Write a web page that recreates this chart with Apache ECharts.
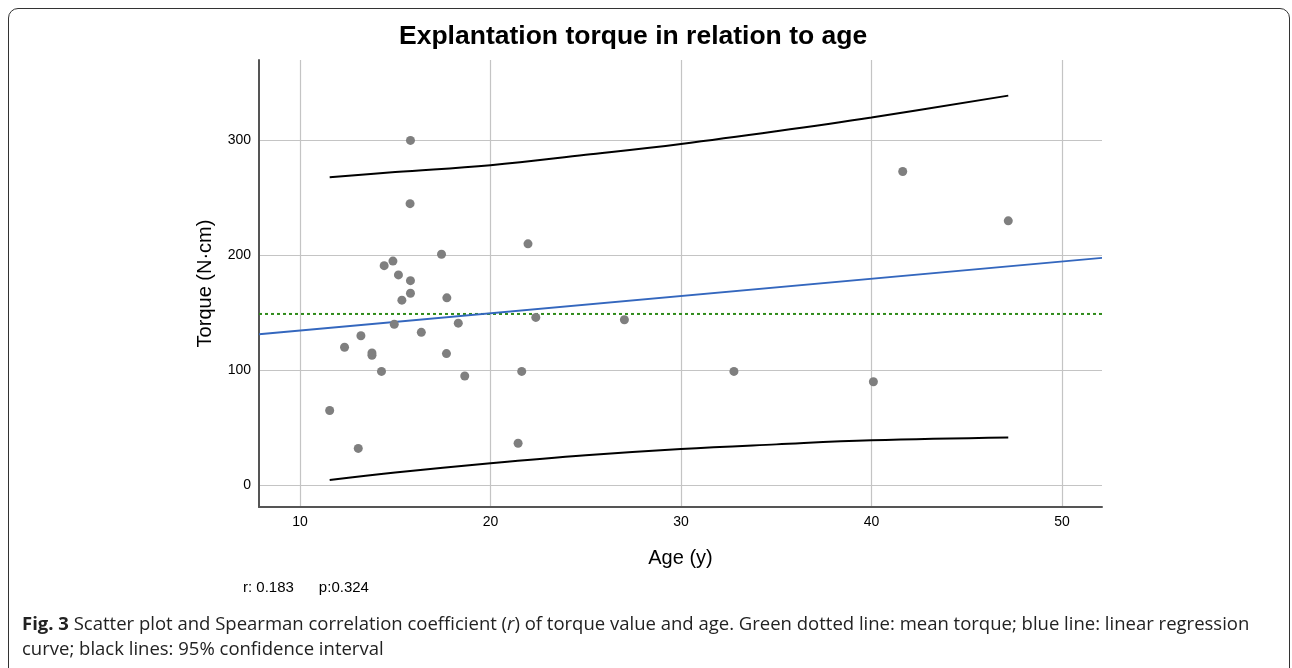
<!DOCTYPE html>
<html>
<head>
<meta charset="utf-8">
<script src="https://cdn.jsdelivr.net/npm/echarts@6/dist/echarts.min.js"></script>
<style>
  html, body { margin: 0; padding: 0; background: #fff; }
  #wrap { position: relative; width: 1292px; height: 668px; overflow: hidden; }
  #frame {
    position: absolute; left: 8px; top: 8px; width: 1282px; height: 700px;
    border: 1.8px solid #333; border-radius: 10px; box-sizing: border-box;
  }
  #chart { position: absolute; left: 0; top: 0; width: 1292px; height: 668px; }
  #caption {
    position: absolute; left: 22px; top: 610px; width: 1250px;
    font-family: 'Open Sans', sans-serif; font-size: 18.5px; line-height: 25px; color: #222;
  }
</style>
</head>
<body>
<div id="wrap">
  <div id="frame"></div>
  <div id="chart"></div>
  <div id="caption"><b>Fig. 3</b> Scatter plot and Spearman correlation coefficient (<i>r</i>) of torque value and age. Green dotted line: mean torque; blue line: linear regression curve; black lines: 95% confidence interval</div>
</div>
<script>
// observed points: age (y) and torque (N·cm)
const ages = [11.56, 12.34, 13.06, 13.2, 13.78, 13.78, 14.28, 14.42, 14.88, 14.95, 15.17, 15.35, 15.8, 15.78, 15.8, 15.8,
  16.37, 17.43, 17.71, 17.69, 18.31, 18.65, 21.45, 21.64, 21.97, 22.38, 27.03, 32.78, 40.1, 41.64, 47.18]
const torques = [65, 120, 32, 130, 115, 113, 99, 191, 195, 140, 183, 161, 300, 245, 178, 167,
  133, 201, 163, 114.5, 141, 95, 36.5, 99, 210, 146, 144, 99, 90, 273, 230]

// regression line ends, mean line, confidence band
const axisRange = [7.85, 52.1]
const regression = [131.3, 197.8]
const meanTorque = 149
const ciAges = [11.56, 15, 20, 25, 30, 35, 40, 47.18]
const ciUpper = [268, 272.5, 278.5, 287.5, 297, 308, 320, 339]
const ciLower = [4.5, 11, 19, 26, 31.5, 35.5, 39, 41.5]

const pairs = (xs, ys) => xs.map((x, i) => [x, ys[i]])

const chart = echarts.init(document.getElementById('chart'))
const font = 'Liberation Sans, Arial, sans-serif'

chart.setOption({
  animation: false,
  title: {
    text: 'Explantation torque in relation to age',
    left: 394,
    top: 18,
    textStyle: { fontFamily: font, fontSize: 26.5, fontWeight: 'bold', color: '#000' },
  },
  grid: { left: 259, right: 190, top: 60, bottom: 161 },
  xAxis: {
    type: 'value',
    min: axisRange[0],
    max: axisRange[1],
    name: 'Age (y)',
    nameLocation: 'middle',
    nameGap: 41,
    nameTextStyle: { fontFamily: font, fontSize: 20, color: '#000' },
    axisLine: { onZero: false, lineStyle: { color: '#555', width: 2 } },
    axisTick: { show: false },
    axisLabel: { showMinLabel: false, showMaxLabel: false, margin: 8, fontFamily: font, fontSize: 14, color: '#000' },
    splitLine: { showMinLine: false, showMaxLine: false, lineStyle: { color: '#c4c4c4', width: 1.2 } },
  },
  yAxis: {
    type: 'value',
    min: -19,
    max: 370,
    name: 'Torque (N·cm)',
    nameLocation: 'middle',
    nameGap: 44,
    nameTextStyle: { fontFamily: font, fontSize: 20, color: '#000' },
    axisLine: { show: true, lineStyle: { color: '#555', width: 2 } },
    axisTick: { show: false },
    axisLabel: { showMinLabel: false, showMaxLabel: false, margin: 8, fontFamily: font, fontSize: 14, color: '#000' },
    splitLine: { showMinLine: false, showMaxLine: false, lineStyle: { color: '#c4c4c4', width: 1.2 } },
  },
  graphic: [{
    type: 'text',
    left: 243,
    top: 580,
    style: { text: 'r: 0.183      p:0.324', font: '15px Liberation Sans, Arial, sans-serif', fill: '#000' },
  }],
  series: [
    {
      type: 'line',
      data: pairs(axisRange, [meanTorque, meanTorque]),
      symbol: 'none',
      lineStyle: { color: '#2f8a1a', width: 2, type: [3, 3] },
      z: 2,
    },
    {
      type: 'line',
      data: pairs(axisRange, regression),
      symbol: 'none',
      lineStyle: { color: '#3467be', width: 2 },
      z: 3,
    },
    {
      type: 'line',
      data: pairs(ciAges, ciUpper),
      symbol: 'none',
      smooth: 0.4,
      lineStyle: { color: '#000', width: 2 },
      z: 3,
    },
    {
      type: 'line',
      data: pairs(ciAges, ciLower),
      symbol: 'none',
      smooth: 0.4,
      lineStyle: { color: '#000', width: 2 },
      z: 3,
    },
    {
      type: 'scatter',
      data: pairs(ages, torques),
      symbolSize: 9,
      itemStyle: { color: '#7f7f7f', opacity: 1 },
      z: 4,
    },
  ],
})
</script>
</body>
</html>
